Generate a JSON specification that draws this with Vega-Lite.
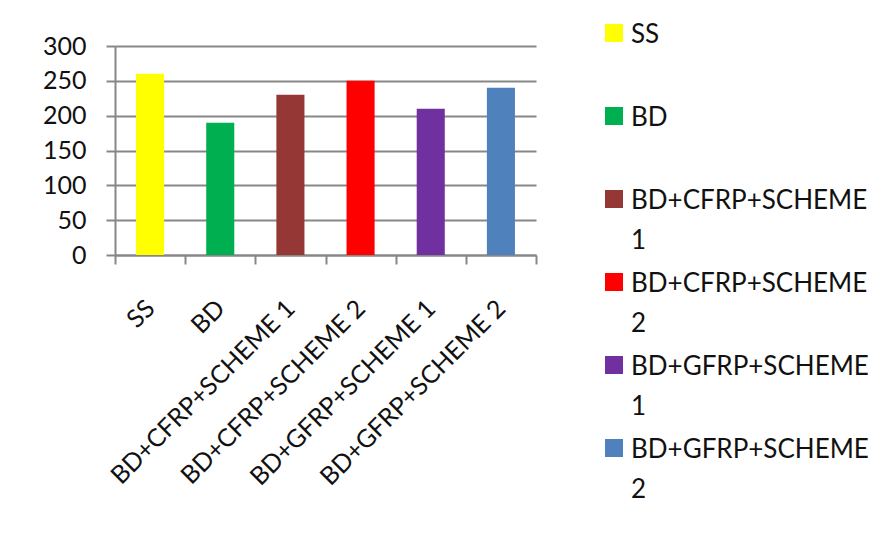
{
  "$schema": "https://vega.github.io/schema/vega-lite/v6.json",
  "background": "white",
  "padding": {"left": 42, "top": 22, "right": 0, "bottom": 0},
  "config": {
    "font": "Lato",
    "view": {"stroke": null}
  },
  "width": 421,
  "height": 209,
  "data": {
    "values": [
      {"category": "SS", "value": 260},
      {"category": "BD", "value": 190},
      {"category": "BD+CFRP+SCHEME 1", "value": 230},
      {"category": "BD+CFRP+SCHEME 2", "value": 250},
      {"category": "BD+GFRP+SCHEME 1", "value": 210},
      {"category": "BD+GFRP+SCHEME 2", "value": 240}
    ]
  },
  "resolve": {"scale": {"y": "independent"}},
  "layer": [
    {
      "mark": {"type": "bar", "width": {"band": 0.4}},
      "encoding": {
        "x": {
          "field": "category",
          "type": "nominal",
          "sort": null,
          "scale": {"paddingInner": 0, "paddingOuter": 0},
          "axis": {
            "title": null,
            "labelAngle": -45,
            "labelAlign": "right",
            "labelBaseline": "middle",
            "labelFontSize": 25,
            "labelColor": "#111111",
            "labelPadding": 40,
            "tickBand": "extent",
            "tickSize": 9,
            "tickWidth": 2,
            "tickColor": "#878787",
            "domainColor": "#878787",
            "domainWidth": 2,
            "labelOverlap": false,
            "labelLimit": 400
          }
        },
        "y": {
          "field": "value",
          "type": "quantitative",
          "scale": {"domain": [0, 300]},
          "axis": {
            "title": null,
            "values": [0, 50, 100, 150, 200, 250, 300],
            "grid": true,
            "gridColor": "#878787",
            "gridWidth": 2,
            "domainColor": "#878787",
            "domainWidth": 2,
            "tickColor": "#878787",
            "tickWidth": 2,
            "tickSize": 9,
            "labelFontSize": 25,
            "labelColor": "#111111",
            "labelPadding": 20
          }
        },
        "color": {
          "field": "category",
          "type": "nominal",
          "sort": null,
          "scale": {
            "domain": ["SS", "BD", "BD+CFRP+SCHEME 1", "BD+CFRP+SCHEME 2", "BD+GFRP+SCHEME 1", "BD+GFRP+SCHEME 2"],
            "range": ["#FFFF00", "#00B050", "#953735", "#FF0000", "#7030A0", "#4F81BD"]
          },
          "legend": null
        }
      }
    },
    {
      "mark": {"type": "point", "shape": "square", "filled": true, "opacity": 1, "size": 324, "x": 499},
      "encoding": {
        "y": {
          "field": "category",
          "type": "nominal",
          "sort": null,
          "scale": {"type": "point", "padding": 0, "range": [-13, 402]},
          "axis": null
        },
        "color": {"field": "category", "type": "nominal", "sort": null, "legend": null}
      }
    },
    {
      "mark": {"type": "text", "align": "left", "baseline": "top", "dy": -11, "x": 516, "fontSize": 26, "lineBreak": " ", "lineHeight": 40, "color": "#111111"},
      "encoding": {
        "y": {
          "field": "category",
          "type": "nominal",
          "sort": null,
          "scale": {"type": "point", "padding": 0, "range": [-13, 402]},
          "axis": null
        },
        "text": {"field": "category"}
      }
    }
  ]
}
